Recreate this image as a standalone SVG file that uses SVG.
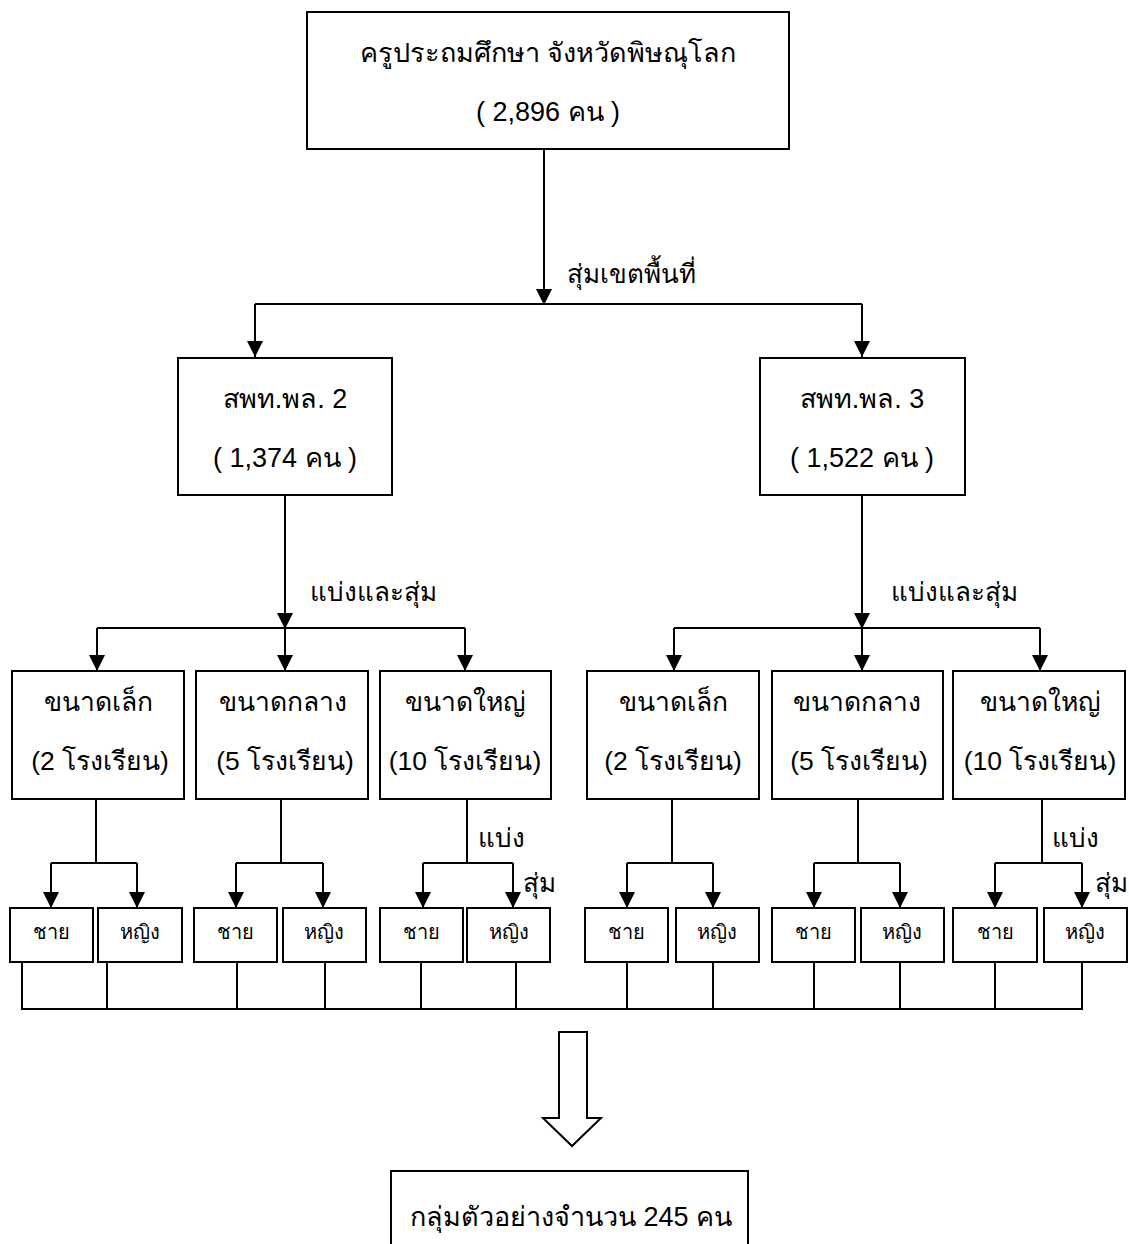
<svg xmlns="http://www.w3.org/2000/svg" width="1129" height="1244" viewBox="0 0 1129 1244">
<style>
.box{fill:#fff;stroke:#000;stroke-width:2}
.ln{fill:none;stroke:#000;stroke-width:2}
.ar{fill:none;stroke:#000;stroke-width:2;marker-end:url(#ah)}
text{font-family:"Liberation Sans","Noto Sans",sans-serif;fill:#000;text-anchor:middle}
.t1{font-size:27px}
.t2{font-size:26.5px}
.t3{font-size:20px}
.lb{font-size:26px;text-anchor:start}
</style>
<defs>
<marker id="ah" markerUnits="userSpaceOnUse" markerWidth="16" markerHeight="16" refX="16" refY="8" orient="auto" viewBox="0 0 16 16">
<path d="M0,0 L16,8 L0,16 Z" fill="#000"/>
</marker>
</defs>
<rect width="1129" height="1244" fill="#fff"/>
<g id="connectors">
<path class="ar" d="M544,149 V305"/>
<path class="ln" d="M255,304 H862"/>
<path class="ar" d="M255,304 V357"/>
<path class="ar" d="M862,304 V357"/>
<path class="ar" d="M285,495 V629"/>
<path class="ln" d="M97,628 H465"/>
<path class="ar" d="M97,628 V671"/>
<path class="ar" d="M285,628 V671"/>
<path class="ar" d="M465,628 V671"/>
<path class="ar" d="M862,495 V629"/>
<path class="ln" d="M674,628 H1040"/>
<path class="ar" d="M674,628 V671"/>
<path class="ar" d="M862,628 V671"/>
<path class="ar" d="M1040,628 V671"/>
<path class="ln" d="M96,799 V863 M281,799 V863 M467,799 V863 M672,799 V863 M858,799 V863 M1042,799 V863"/>
<path class="ln" d="M51,863 H137 M236,863 H323 M423,863 H513 M627,863 H713 M814,863 H900 M995,863 H1082"/>
<path class="ar" d="M51,863 V908"/><path class="ar" d="M137,863 V908"/>
<path class="ar" d="M236,863 V908"/><path class="ar" d="M323,863 V908"/>
<path class="ar" d="M423,863 V908"/><path class="ar" d="M513,863 V908"/>
<path class="ar" d="M627,863 V908"/><path class="ar" d="M713,863 V908"/>
<path class="ar" d="M814,863 V908"/><path class="ar" d="M900,863 V908"/>
<path class="ar" d="M995,863 V908"/><path class="ar" d="M1082,863 V908"/>
<path class="ln" d="M22,962 V1009 M107,962 V1009 M237,962 V1009 M325,962 V1009 M421,962 V1009 M516,962 V1009 M627,962 V1009 M713,962 V1009 M814,962 V1009 M900,962 V1009 M995,962 V1009 M1082,962 V1009"/>
<path class="ln" d="M21,1009 H1083"/>
<path class="ln" d="M559,1032 H587 V1118 H601 L572,1146 L543,1118 H559 Z"/>
<text class="lb" x="567" y="283">สุ่มเขตพื้นที่</text>
<text class="lb" x="310" y="601">แบ่งและสุ่ม</text>
<text class="lb" x="891" y="601">แบ่งและสุ่ม</text>
<text class="lb" x="478" y="847">แบ่ง</text>
<text class="lb" x="523" y="892">สุ่ม</text>
<text class="lb" x="1052" y="847">แบ่ง</text>
<text class="lb" x="1095" y="892">สุ่ม</text>
</g>
<g id="n_root"><rect class="box" x="307" y="12" width="482" height="137"/>
<text class="t1" x="548" y="62">ครูประถมศึกษา จังหวัดพิษณุโลก</text>
<text class="t1" x="548" y="121">( 2,896 คน )</text></g>
<g id="n_area2"><rect class="box" x="178" y="358" width="214" height="137"/>
<text class="t1" x="285" y="408">สพท.พล. 2</text>
<text class="t1" x="285" y="467">( 1,374 คน )</text></g>
<g id="n_area3"><rect class="box" x="760" y="358" width="205" height="137"/>
<text class="t1" x="862" y="408">สพท.พล. 3</text>
<text class="t1" x="862" y="467">( 1,522 คน )</text></g>
<g id="n_s2"><rect class="box" x="12" y="671" width="172" height="128"/>
<text class="t2" x="98" y="711">ขนาดเล็ก</text><text class="t2" x="100" y="770">(2 โรงเรียน)</text></g>
<g id="n_m2"><rect class="box" x="196" y="671" width="172" height="128"/>
<text class="t2" x="283" y="711">ขนาดกลาง</text><text class="t2" x="285" y="770">(5 โรงเรียน)</text></g>
<g id="n_l2"><rect class="box" x="380" y="671" width="171" height="128"/>
<text class="t2" x="465" y="711">ขนาดใหญ่</text><text class="t2" x="465" y="770">(10 โรงเรียน)</text></g>
<g id="n_s3"><rect class="box" x="587" y="671" width="172" height="128"/>
<text class="t2" x="673" y="711">ขนาดเล็ก</text><text class="t2" x="673" y="770">(2 โรงเรียน)</text></g>
<g id="n_m3"><rect class="box" x="772" y="671" width="171" height="128"/>
<text class="t2" x="857" y="711">ขนาดกลาง</text><text class="t2" x="859" y="770">(5 โรงเรียน)</text></g>
<g id="n_l3"><rect class="box" x="953" y="671" width="172" height="128"/>
<text class="t2" x="1040" y="711">ขนาดใหญ่</text><text class="t2" x="1040" y="770">(10 โรงเรียน)</text></g>
<g id="n_b1"><rect class="box" x="10" y="908" width="83" height="54"/><text class="t3" x="51" y="939">ชาย</text></g>
<g id="n_g1"><rect class="box" x="98" y="908" width="84" height="54"/><text class="t3" x="140" y="939">หญิง</text></g>
<g id="n_b2"><rect class="box" x="194" y="908" width="83" height="54"/><text class="t3" x="235" y="939">ชาย</text></g>
<g id="n_g2"><rect class="box" x="283" y="908" width="83" height="54"/><text class="t3" x="324" y="939">หญิง</text></g>
<g id="n_b3"><rect class="box" x="380" y="908" width="83" height="54"/><text class="t3" x="421" y="939">ชาย</text></g>
<g id="n_g3"><rect class="box" x="467" y="908" width="83" height="54"/><text class="t3" x="509" y="939">หญิง</text></g>
<g id="n_b4"><rect class="box" x="585" y="908" width="83" height="54"/><text class="t3" x="626" y="939">ชาย</text></g>
<g id="n_g4"><rect class="box" x="676" y="908" width="83" height="54"/><text class="t3" x="717" y="939">หญิง</text></g>
<g id="n_b5"><rect class="box" x="772" y="908" width="83" height="54"/><text class="t3" x="813" y="939">ชาย</text></g>
<g id="n_g5"><rect class="box" x="861" y="908" width="83" height="54"/><text class="t3" x="902" y="939">หญิง</text></g>
<g id="n_b6"><rect class="box" x="953" y="908" width="84" height="54"/><text class="t3" x="995" y="939">ชาย</text></g>
<g id="n_g6"><rect class="box" x="1044" y="908" width="83" height="54"/><text class="t3" x="1085" y="939">หญิง</text></g>
<g id="n_result"><rect class="box" x="391" y="1171" width="357" height="90"/>
<text class="t1" x="571" y="1226">กลุ่มตัวอย่างจำนวน 245 คน</text></g>
</svg>
